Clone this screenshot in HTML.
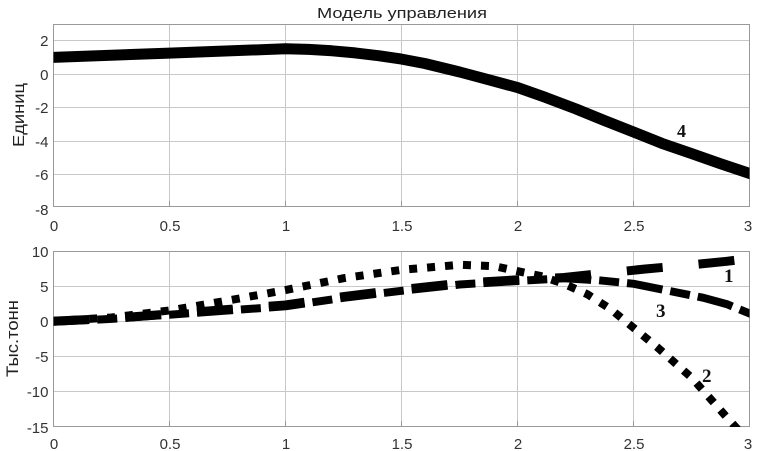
<!DOCTYPE html>
<html><head><meta charset="utf-8"><style>
html,body{margin:0;padding:0;background:#fff;}
svg{display:block;}
</style></head><body>
<svg width="758" height="451" viewBox="0 0 758 451" xmlns="http://www.w3.org/2000/svg">
<defs>
<clipPath id="c1"><rect x="53.5" y="24" width="696" height="183"/></clipPath>
<clipPath id="c2"><rect x="53.5" y="251" width="696" height="176"/></clipPath>
</defs>
<rect width="758" height="451" fill="#fff"/>

<!-- Title -->
<text x="402" y="18" font-family="Liberation Sans, sans-serif" font-size="15" fill="#222" text-anchor="middle" textLength="170" lengthAdjust="spacingAndGlyphs">Модель управления</text>

<!-- TOP AXES -->
<g stroke="#c8c8c8" stroke-width="1" fill="none">
<line x1="169.5" y1="24" x2="169.5" y2="207"/>
<line x1="285.5" y1="24" x2="285.5" y2="207"/>
<line x1="401.5" y1="24" x2="401.5" y2="207"/>
<line x1="517.5" y1="24" x2="517.5" y2="207"/>
<line x1="633.5" y1="24" x2="633.5" y2="207"/>
<line x1="53.5" y1="40.5" x2="749.5" y2="40.5"/>
<line x1="53.5" y1="74.5" x2="749.5" y2="74.5"/>
<line x1="53.5" y1="107.5" x2="749.5" y2="107.5"/>
<line x1="53.5" y1="141.5" x2="749.5" y2="141.5"/>
<line x1="53.5" y1="174.5" x2="749.5" y2="174.5"/>
</g>
<g stroke="#999" stroke-width="1">
<line x1="169.5" y1="207" x2="169.5" y2="201"/><line x1="285.5" y1="207" x2="285.5" y2="201"/>
<line x1="401.5" y1="207" x2="401.5" y2="201"/><line x1="517.5" y1="207" x2="517.5" y2="201"/>
<line x1="633.5" y1="207" x2="633.5" y2="201"/>
</g>
<rect x="53.5" y="24.5" width="696" height="182" fill="none" stroke="#999" stroke-width="1"/>

<g font-family="Liberation Sans, sans-serif" font-size="15" fill="#333" text-anchor="end">
<text x="48.5" y="46">2</text>
<text x="48.5" y="80">0</text>
<text x="48.5" y="113">-2</text>
<text x="48.5" y="147">-4</text>
<text x="48.5" y="180">-6</text>
<text x="48.5" y="215">-8</text>
</g>
<g font-family="Liberation Sans, sans-serif" font-size="15" fill="#333" text-anchor="middle">
<text x="54" y="231">0</text>
<text x="170" y="231">0.5</text>
<text x="286" y="231">1</text>
<text x="402" y="231">1.5</text>
<text x="518" y="231">2</text>
<text x="634" y="231">2.5</text>
<text x="748" y="231">3</text>
</g>
<text transform="translate(24,115) rotate(-90)" font-family="Liberation Sans, sans-serif" font-size="16" fill="#222" text-anchor="middle" textLength="64" lengthAdjust="spacingAndGlyphs">Единиц</text>

<g clip-path="url(#c1)">
<polyline fill="none" stroke="#000" stroke-width="11" stroke-linejoin="round"
points="53.3,57.4 169.4,53.1 285.5,48.8 308.7,49.4 332.0,50.8 355.2,52.9 378.4,55.7 401.6,59.1 424.8,63.5 459.7,72.0 488,79.6 517.7,87.6 546,97.6 575.8,108.9 604,120.4 633.8,132.1 662,143.4 691.9,153.7 720,163.6 752,174.3"/>
</g>
<text x="677" y="137" font-family="Liberation Serif, serif" font-weight="bold" font-size="18" fill="#111">4</text>

<!-- BOTTOM AXES -->
<g stroke="#c8c8c8" stroke-width="1" fill="none">
<line x1="169.5" y1="251" x2="169.5" y2="427"/>
<line x1="285.5" y1="251" x2="285.5" y2="427"/>
<line x1="401.5" y1="251" x2="401.5" y2="427"/>
<line x1="517.5" y1="251" x2="517.5" y2="427"/>
<line x1="633.5" y1="251" x2="633.5" y2="427"/>
<line x1="53.5" y1="286.5" x2="749.5" y2="286.5"/>
<line x1="53.5" y1="321.5" x2="749.5" y2="321.5"/>
<line x1="53.5" y1="356.5" x2="749.5" y2="356.5"/>
<line x1="53.5" y1="391.5" x2="749.5" y2="391.5"/>
</g>
<g stroke="#999" stroke-width="1">
<line x1="169.5" y1="427" x2="169.5" y2="421"/><line x1="285.5" y1="427" x2="285.5" y2="421"/>
<line x1="401.5" y1="427" x2="401.5" y2="421"/><line x1="517.5" y1="427" x2="517.5" y2="421"/>
<line x1="633.5" y1="427" x2="633.5" y2="421"/>
</g>
<rect x="53.5" y="251.5" width="696" height="175" fill="none" stroke="#999" stroke-width="1"/>

<g font-family="Liberation Sans, sans-serif" font-size="15" fill="#333" text-anchor="end">
<text x="48.5" y="257">10</text>
<text x="48.5" y="292">5</text>
<text x="48.5" y="327">0</text>
<text x="48.5" y="362">-5</text>
<text x="48.5" y="397">-10</text>
<text x="48.5" y="433">-15</text>
</g>
<g font-family="Liberation Sans, sans-serif" font-size="15" fill="#333" text-anchor="middle">
<text x="54" y="449">0</text>
<text x="170" y="449">0.5</text>
<text x="286" y="449">1</text>
<text x="402" y="449">1.5</text>
<text x="518" y="449">2</text>
<text x="634" y="449">2.5</text>
<text x="748" y="449">3</text>
</g>
<text transform="translate(18,338.5) rotate(-90)" font-family="Liberation Sans, sans-serif" font-size="17" fill="#222" text-anchor="middle" textLength="77" lengthAdjust="spacingAndGlyphs">Тыс.тонн</text>

<g clip-path="url(#c2)" fill="none" stroke="#000" stroke-linejoin="round">
<!-- curve 2 dotted -->
<polyline stroke-width="8" stroke-dasharray="8 10"
points="53.3,321.0 111.4,317.5 169.4,310.5 227.5,300.6 285.5,290.1 343.6,278.2 401.6,269.8 459.7,264.8 494.5,266.2 517.7,271.2 540.9,276.1 564.1,283.8 587.4,294.3 610.6,309.1 633.8,328.0 657.0,347.0 691.9,377.9 726.7,417.2 740.6,432.6"/>
<!-- curve 3 dash-dot -->
<polyline stroke-width="8" stroke-dasharray="36 8 20 8"
points="53.3,321.7 111.4,318.9 169.4,314.7 227.5,310.5 285.5,306.3 343.6,297.8 401.6,290.8 459.7,284.5 517.7,281.0 564.1,278.2 599.0,280.3 633.8,283.8 668.6,290.8 703.5,297.8 726.7,304.1 752,314.5"/>
<!-- curve 1 dashed -->
<polyline stroke-width="9" stroke-dasharray="36 36"
points="53.3,321.2 111.4,318.4 169.4,314.0 227.5,309.5 285.5,305.0 343.6,296.6 401.6,289.5 459.7,283.3 517.7,279.8 564.1,277.5 610.6,272.6 645.4,269.0 691.9,264.8 726.7,261.3 752,258.3"/>
</g>
<g font-family="Liberation Serif, serif" font-weight="bold" font-size="19" fill="#111">
<text x="724" y="282">1</text>
<text x="656" y="317">3</text>
<text x="702" y="382">2</text>
</g>
</svg>
</body></html>
